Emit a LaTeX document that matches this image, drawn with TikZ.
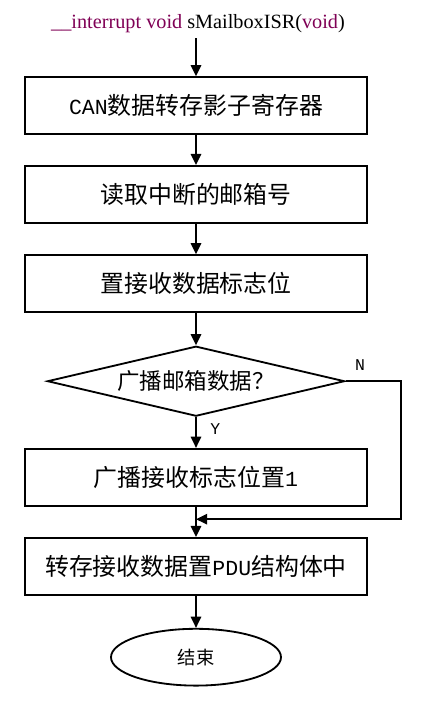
\documentclass[tikz,border=0pt]{standalone}
\usepackage{fontspec}
\setmainfont{Liberation Serif}
\newfontfamily\cjk{Noto Sans CJK SC}
\newfontfamily\halfw[Scale=0.9]{Liberation Mono}
\usepackage{xcolor}
\usetikzlibrary{shapes.geometric}
\usetikzlibrary{arrows.meta}
\definecolor{kwpurple}{HTML}{7F0055}
\newcommand{\lat}[1]{{\halfw #1}}

\begin{document}
\begin{tikzpicture}
        % ================= 样式定义 =================
        \tikzset{
            % 处理框:白底黑边矩形
            procbox/.style={rectangle, draw=black, line width=1.3pt, fill=white, minimum width=8.55cm, minimum height=1.42cm, font=\cjk\fontsize{17}{20}\selectfont},
            % 判断框:扁菱形
            decbox/.style={diamond, aspect=4.2, draw=black, line width=1.3pt, fill=white, minimum width=7.43cm, minimum height=1.75cm, inner sep=0pt, font=\cjk\fontsize{16}{19}\selectfont},
            % 结束框:椭圆
            endblob/.style={ellipse, draw=black, line width=1.3pt, fill=white, minimum width=4.25cm, minimum height=1.42cm, font=\cjk\fontsize{13}{16}\selectfont},
            % 连线样式
            flow/.style={line width=1.3pt, black, -{Triangle[length=2.8mm, width=2.6mm]}},
            % 分支标签
            lbl/.style={font=\halfw\fontsize{13}{15}\selectfont}
        }
        \useasboundingbox (0,0) rectangle (11,-17.55);

        % ================= 1. 绘制节点 =================

        % 函数名
        \node[font=\fontsize{14.4}{17}\selectfont] (title) at (4.95, -0.6) {{\color{kwpurple}\_\_interrupt void} sMailboxISR({\color{kwpurple}void})};

        % 各处理步骤
        \node[procbox] (can) at (4.9, -2.64) {\lat{CAN}数据转存影子寄存器};
        \node[procbox] (readmb) at (4.9, -4.86) {读取中断的邮箱号};
        \node[procbox] (setflag) at (4.9, -7.09) {置接收数据标志位};

        % 判断:是否广播邮箱
        \node[decbox] (isbc) at (4.9, -9.53) {广播邮箱数据？};

        \node[procbox] (bcflag) at (4.9, -11.93) {广播接收标志位置\lat{1}};
        \node[procbox] (savepdu) at (4.9, -14.16) {转存接收数据置\lat{PDU}结构体中};

        % 结束
        \node[endblob] (fin) at (4.9, -16.43) {结束};

        % N 分支的拐点
        \coordinate (nturn) at (10.03, -12.98);
        \coordinate (njoin) at (4.9, -12.98);

        % 分支标签
        \node[lbl] (nlabel) at (9.0, -9.13) {N};
        \node[lbl] (ylabel) at (5.38, -10.73) {Y};

        % ================= 2. 绘制连线 =================
        \draw[flow] (title.south -| can.north) -- (can);
        \draw[flow] (can) -- (readmb);
        \draw[flow] (readmb) -- (setflag);
        \draw[flow] (setflag) -- (isbc);
        \draw[flow] (isbc) -- (bcflag);
        \draw[flow] (bcflag) -- (savepdu);
        \draw[flow] (savepdu) -- (fin);

        % --- N 分支:绕到右侧再回到主线 ---
        \draw[flow] (isbc.east) -| (nturn) -- (njoin);

    \end{tikzpicture}
\end{document}
